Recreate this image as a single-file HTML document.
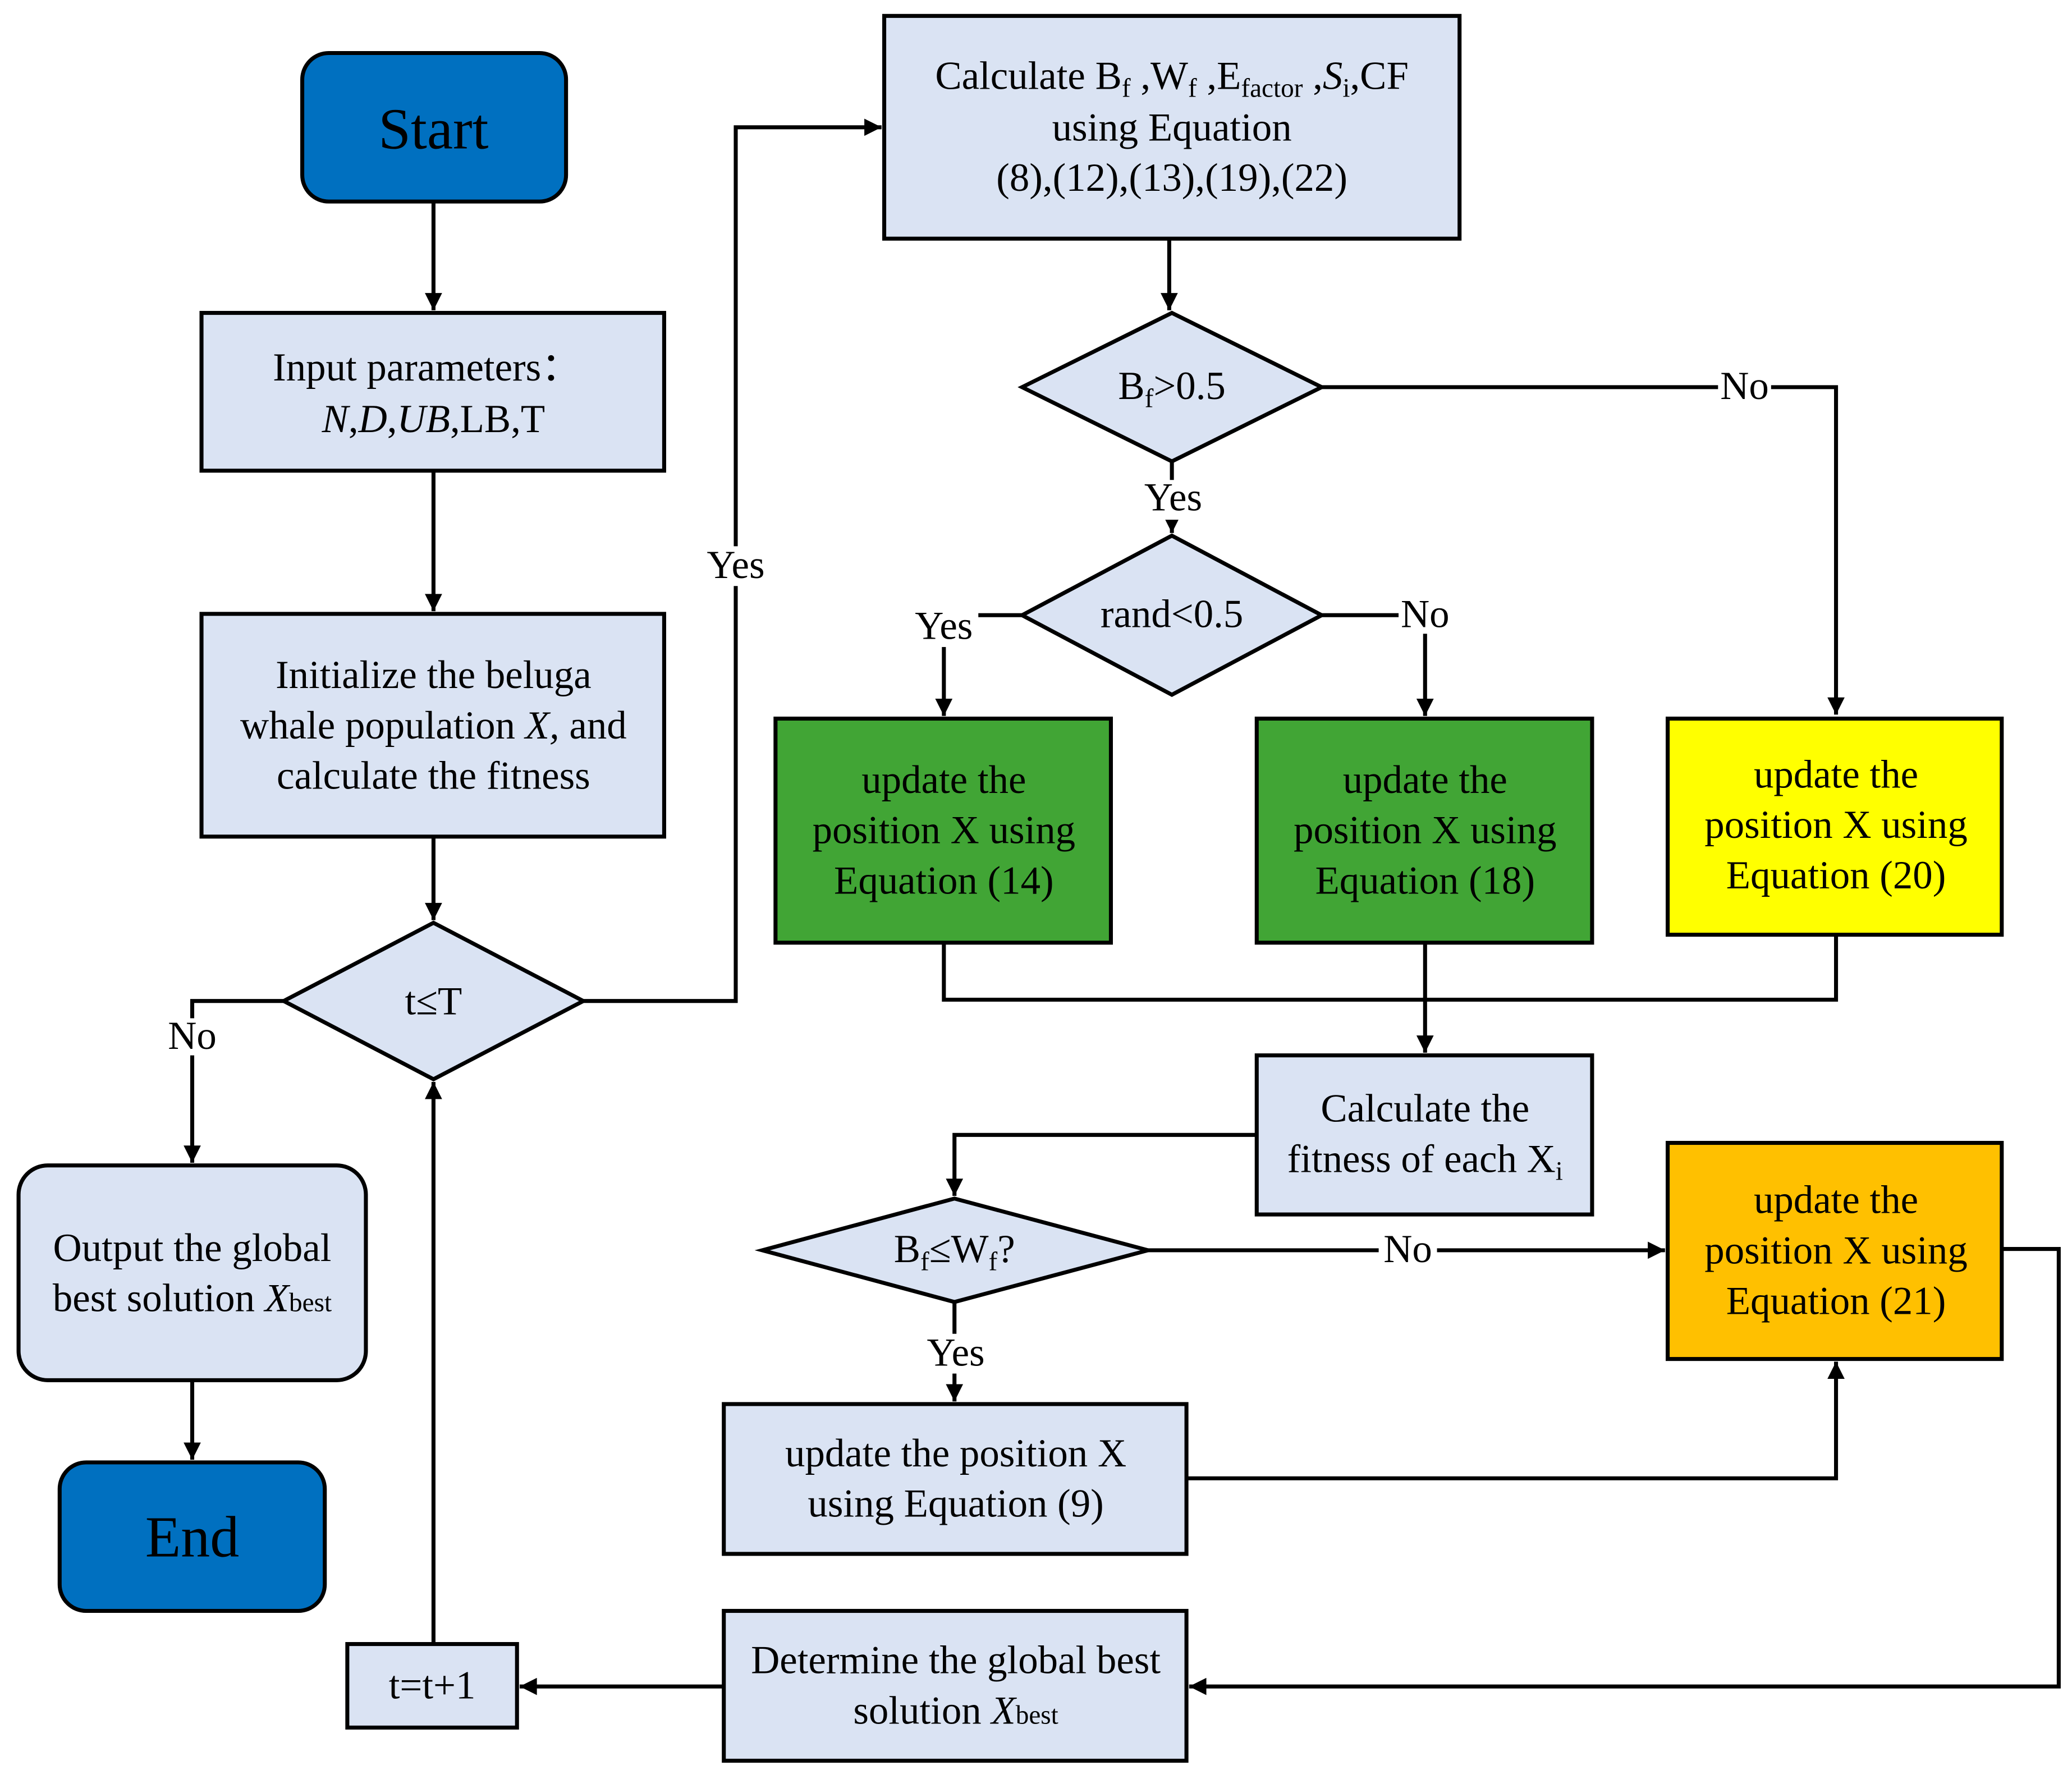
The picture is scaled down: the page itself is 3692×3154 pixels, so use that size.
<!DOCTYPE html>
<html><head><meta charset="utf-8"><style>
html,body{margin:0;padding:0;background:#fff}
svg{display:block}
text{font-family:"Liberation Serif",serif;font-size:30px;fill:#000;text-anchor:middle}
</style></head><body>
<svg width="3692" height="3154" viewBox="0 0 1563 1335" preserveAspectRatio="none" xmlns="http://www.w3.org/2000/svg">
<defs><marker id="b" viewBox="0 0 10 10" refX="10" refY="5" markerWidth="15" markerHeight="13" orient="auto" markerUnits="userSpaceOnUse"><path d="M0,0 L10,5 L0,10 z" fill="#000"/></marker></defs>
<g stroke="#000" stroke-width="3" fill="none">
<path d="M327,152 V234" marker-end="url(#b)"/>
<path d="M327,355 V461" marker-end="url(#b)"/>
<path d="M327,631 V694" marker-end="url(#b)"/>
<path d="M214,755 H145 V877" marker-end="url(#b)"/>
<path d="M145,1041 V1101" marker-end="url(#b)"/>
<path d="M327,1240 V816" marker-end="url(#b)"/>
<path d="M546,1272 H392" marker-end="url(#b)"/>
<path d="M440,755 H555 V96 H665" marker-end="url(#b)"/>
<path d="M882,180 V234" marker-end="url(#b)"/>
<path d="M997,292 H1385 V539" marker-end="url(#b)"/>
<path d="M884,348 V402" marker-end="url(#b)"/>
<path d="M771,464 H712 V540" marker-end="url(#b)"/>
<path d="M997,464 H1075 V540" marker-end="url(#b)"/>
<path d="M712,711 V754 H1385 V705"/>
<path d="M1075,711 V794" marker-end="url(#b)"/>
<path d="M948,856 H720 V902" marker-end="url(#b)"/>
<path d="M866,943 H1256" marker-end="url(#b)"/>
<path d="M720,982 V1057" marker-end="url(#b)"/>
<path d="M895,1115 H1385 V1027" marker-end="url(#b)"/>
<path d="M1510,942 H1553 V1272 H897" marker-end="url(#b)"/>
<rect x="228" y="40" width="199" height="112" rx="20" fill="#0070C0"/>
<rect x="152" y="236" width="349" height="119" fill="#DAE3F3"/>
<rect x="152" y="463" width="349" height="168" fill="#DAE3F3"/>
<path d="M214,755 L327,696 L440,755 L327,814 Z" fill="#DAE3F3"/>
<rect x="14" y="879" width="262" height="162" rx="22" fill="#DAE3F3"/>
<rect x="45" y="1103" width="200" height="112" rx="20" fill="#0070C0"/>
<rect x="262" y="1240" width="128" height="63" fill="#DAE3F3"/>
<rect x="546" y="1215" width="349" height="113" fill="#DAE3F3"/>
<rect x="667" y="12" width="434" height="168" fill="#DAE3F3"/>
<path d="M771,292 L884,236 L997,292 L884,348 Z" fill="#DAE3F3"/>
<path d="M771,464 L884,404 L997,464 L884,524 Z" fill="#DAE3F3"/>
<rect x="585" y="542" width="253" height="169" fill="#41A535"/>
<rect x="948" y="542" width="253" height="169" fill="#41A535"/>
<rect x="1258" y="542" width="252" height="163" fill="#FFFF00"/>
<rect x="948" y="796" width="253" height="120" fill="#DAE3F3"/>
<path d="M575,943 L720,904 L866,943 L720,982 Z" fill="#DAE3F3"/>
<rect x="546" y="1059" width="349" height="113" fill="#DAE3F3"/>
<rect x="1258" y="862" width="252" height="163" fill="#FFC000"/>
</g>
<g fill="#fff"><rect x="1296" y="278" width="40" height="28"/><rect x="125" y="768" width="40" height="28"/><rect x="530" y="412" width="52" height="30"/><rect x="1040" y="930" width="44" height="28"/><rect x="858" y="362" width="54" height="30"/><rect x="686" y="458" width="52" height="30"/><rect x="1055" y="450" width="40" height="28"/><rect x="694" y="1006" width="54" height="30"/></g>
<text x="327" y="112" style="font-size:44px">Start</text>
<text x="145" y="1174" style="font-size:44px">End</text>
<text x="322" y="287">Input parameters：</text>
<text x="327" y="326"><tspan font-style="italic">N</tspan>,<tspan font-style="italic">D</tspan>,<tspan font-style="italic">UB</tspan>,LB,T</text>
<text x="327" y="519">Initialize the beluga</text>
<text x="327" y="557">whale population <tspan font-style="italic">X,</tspan> and</text>
<text x="327" y="595">calculate the fitness</text>
<text x="327" y="765">t≤T</text>
<text x="145" y="791">No</text>
<text x="145" y="951">Output the global</text>
<text x="145" y="989">best solution <tspan font-style="italic">X</tspan><tspan style="font-size:20px">best</tspan></text>
<text x="326" y="1281">t=t+1</text>
<text x="721" y="1262">Determine the global best</text>
<text x="721" y="1300">solution <tspan font-style="italic">X</tspan><tspan style="font-size:20px">best</tspan></text>
<text x="555" y="436">Yes</text>
<text x="884" y="67">Calculate B<tspan style="font-size:20px" dy="6">f</tspan><tspan dy="-6"> ,W</tspan><tspan style="font-size:20px" dy="6">f</tspan><tspan dy="-6"> ,E</tspan><tspan style="font-size:20px" dy="6">factor</tspan><tspan dy="-6"> ,</tspan><tspan font-style="italic">S</tspan><tspan style="font-size:20px" dy="6">i</tspan><tspan dy="-6">,CF</tspan></text>
<text x="884" y="106">using Equation</text>
<text x="884" y="144">(8),(12),(13),(19),(22)</text>
<text x="884" y="301">B<tspan style="font-size:20px" dy="6">f</tspan><tspan dy="-6">&gt;0.5</tspan></text>
<text x="1316" y="301">No</text>
<text x="885" y="385">Yes</text>
<text x="884" y="473">rand&lt;0.5</text>
<text x="712" y="482">Yes</text>
<text x="1075" y="473">No</text>
<text x="712" y="598">update the</text><text x="712" y="636">position X using</text><text x="712" y="674">Equation (14)</text>
<text x="1075" y="598">update the</text><text x="1075" y="636">position X using</text><text x="1075" y="674">Equation (18)</text>
<text x="1385" y="594">update the</text><text x="1385" y="632">position X using</text><text x="1385" y="670">Equation (20)</text>
<text x="1075" y="846">Calculate the</text>
<text x="1075" y="884">fitness of each X<tspan style="font-size:20px" dy="6">i</tspan></text>
<text x="720" y="952">B<tspan style="font-size:20px" dy="6">f</tspan><tspan dy="-6">≤W</tspan><tspan style="font-size:20px" dy="6">f</tspan><tspan dy="-6">?</tspan></text>
<text x="1062" y="952">No</text>
<text x="721" y="1030">Yes</text>
<text x="721" y="1106">update the position X</text>
<text x="721" y="1144">using Equation (9)</text>
<text x="1385" y="915">update the</text><text x="1385" y="953">position X using</text><text x="1385" y="991">Equation (21)</text>
</svg>
</body></html>
